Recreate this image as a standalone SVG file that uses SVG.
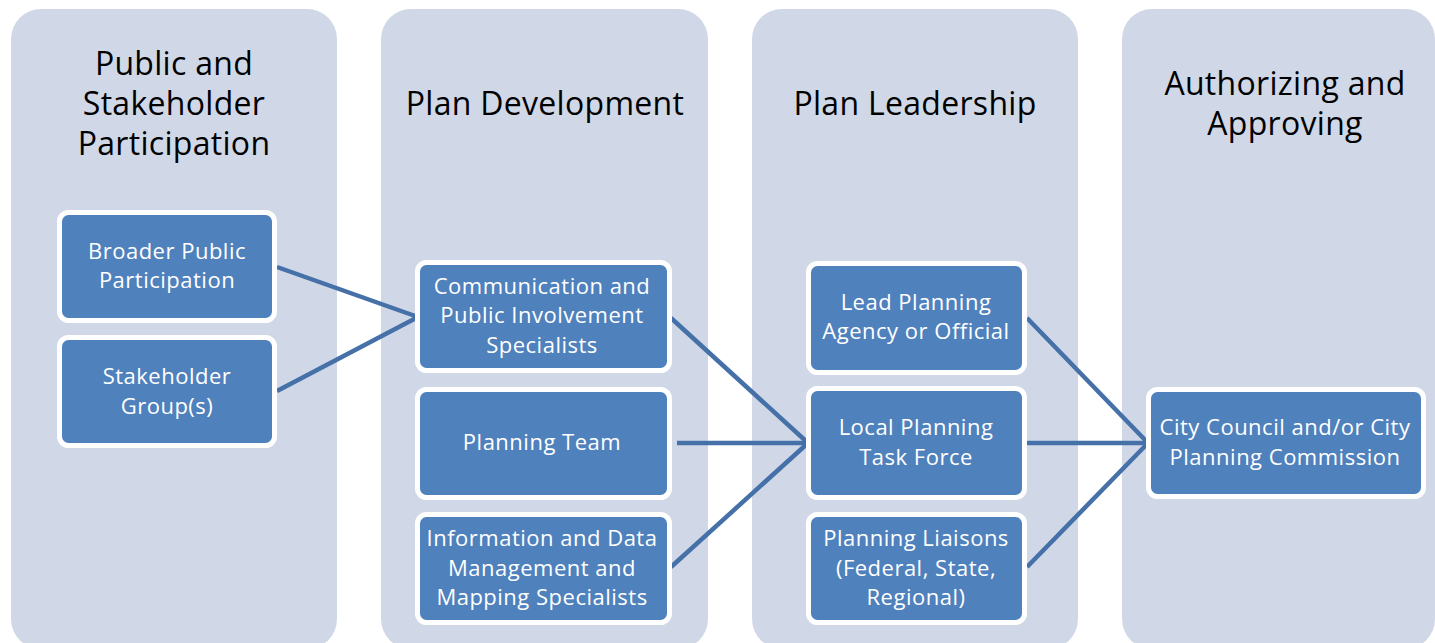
<svg xmlns="http://www.w3.org/2000/svg" width="1435" height="643" viewBox="0 0 1435 643">
  <style>
    .panel { fill: #D0D8E8; }
    .title { font-family: "Open Sans", "Noto Sans", sans-serif; font-size: 32px; letter-spacing: 0.3px; fill: #000000; text-anchor: middle; }
    .box { fill: #4F81BD; stroke: #FFFFFF; stroke-width: 5; }
    .label { font-family: "Open Sans", "Noto Sans", sans-serif; font-size: 22px; letter-spacing: 0.5px; fill: #FFFFFF; text-anchor: middle; }
    .link { stroke: #4570A8; stroke-width: 4.5; fill: none; stroke-linecap: butt; }
  </style>
  <rect width="1435" height="643" fill="#FFFFFF"/>

  <!-- column panels -->
  <g id="col-public">
    <rect class="panel" x="11" y="9" width="326" height="640" rx="30"/>
    <text class="title" x="174" y="75">Public and</text>
    <text class="title" x="174" y="115">Stakeholder</text>
    <text class="title" x="174" y="155">Participation</text>
  </g>
  <g id="col-development">
    <rect class="panel" x="381" y="9" width="327" height="640" rx="30"/>
    <text class="title" x="545" y="115">Plan Development</text>
  </g>
  <g id="col-leadership">
    <rect class="panel" x="752" y="9" width="326" height="640" rx="30"/>
    <text class="title" x="915" y="115">Plan Leadership</text>
  </g>
  <g id="col-approving">
    <rect class="panel" x="1122" y="9" width="313" height="640" rx="30"/>
    <text class="title" x="1285" y="95">Authorizing and</text>
    <text class="title" x="1285" y="135">Approving</text>
  </g>

  <!-- connectors -->
  <g id="connectors">
    <line class="link" x1="277" y1="267" x2="418" y2="317"/>
    <line class="link" x1="277" y1="391" x2="418" y2="317"/>
    <line class="link" x1="671" y1="318" x2="808" y2="443"/>
    <line class="link" x1="677" y1="443" x2="808" y2="443"/>
    <line class="link" x1="671" y1="567" x2="808" y2="443"/>
    <line class="link" x1="1027" y1="318" x2="1148" y2="443"/>
    <line class="link" x1="1027" y1="443" x2="1148" y2="443"/>
    <line class="link" x1="1027" y1="567" x2="1148" y2="443"/>
  </g>

  <!-- nodes -->
  <g id="broader-public">
    <rect class="box" x="59.5" y="212.5" width="215" height="108" rx="9"/>
    <text class="label" x="167" y="259">Broader Public</text>
    <text class="label" x="167" y="288">Participation</text>
  </g>
  <g id="stakeholder-groups">
    <rect class="box" x="59.5" y="337.5" width="215" height="108" rx="9"/>
    <text class="label" x="167" y="384">Stakeholder</text>
    <text class="label" x="167" y="414">Group(s)</text>
  </g>
  <g id="communication">
    <rect class="box" x="417.5" y="262.5" width="252" height="108" rx="9"/>
    <text class="label" x="542" y="294">Communication and</text>
    <text class="label" x="542" y="323">Public Involvement</text>
    <text class="label" x="542" y="353">Specialists</text>
  </g>
  <g id="planning-team">
    <rect class="box" x="417.5" y="389.5" width="252" height="108" rx="9"/>
    <text class="label" x="542" y="450">Planning Team</text>
  </g>
  <g id="information-data">
    <rect class="box" x="417.5" y="514.5" width="252" height="108" rx="9"/>
    <text class="label" x="542" y="546">Information and Data</text>
    <text class="label" x="542" y="576">Management and</text>
    <text class="label" x="542" y="605">Mapping Specialists</text>
  </g>
  <g id="lead-planning">
    <rect class="box" x="808.5" y="263.5" width="216" height="109" rx="9"/>
    <text class="label" x="916" y="310">Lead Planning</text>
    <text class="label" x="916" y="339">Agency or Official</text>
  </g>
  <g id="task-force">
    <rect class="box" x="808.5" y="388.5" width="216" height="109" rx="9"/>
    <text class="label" x="916" y="435">Local Planning</text>
    <text class="label" x="916" y="465">Task Force</text>
  </g>
  <g id="liaisons">
    <rect class="box" x="808.5" y="514.5" width="216" height="108" rx="9"/>
    <text class="label" x="916" y="546">Planning Liaisons</text>
    <text class="label" x="916" y="576">(Federal, State,</text>
    <text class="label" x="916" y="605">Regional)</text>
  </g>
  <g id="city-council">
    <rect class="box" x="1148.5" y="389.5" width="275" height="107" rx="9"/>
    <text class="label" x="1285" y="435">City Council and/or City</text>
    <text class="label" x="1285" y="465">Planning Commission</text>
  </g>
</svg>
